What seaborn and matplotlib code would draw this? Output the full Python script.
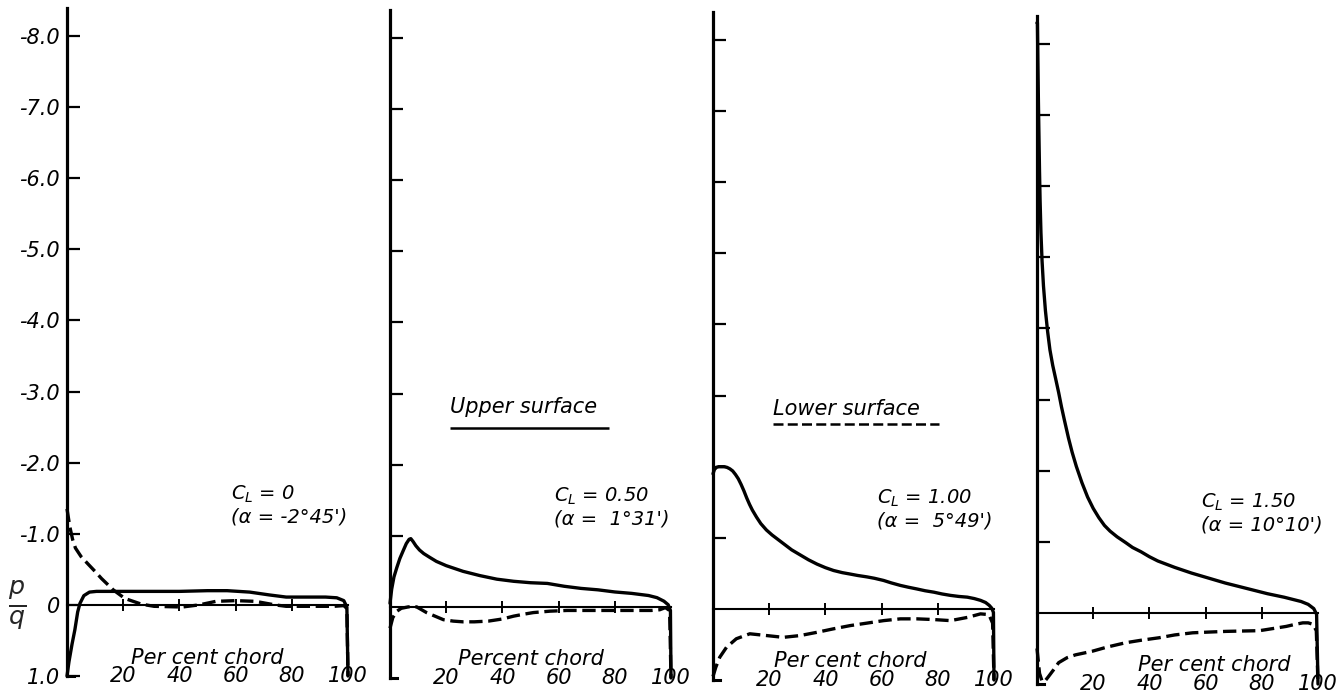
import pandas as pd
import matplotlib.pyplot as plt
import seaborn as sns

# pressure distributions
# x = per cent chord, y = p/q ; upper surface solid, lower surface dashed
cl0_upper_x = [0, 0.7, 1.8, 2.8, 3.8, 4.6, 6, 8, 10.5, 20, 30, 40, 50, 57, 65, 72, 78, 85, 92, 96, 98.5, 99.6, 100]
cl0_upper_y = [1.0, 0.8, 0.55, 0.35, 0.1, -0.02, -0.13, -0.18, -0.19, -0.19, -0.19, -0.19, -0.2, -0.2, -0.18, -0.14, -0.11, -0.11, -0.11, -0.1, -0.06, 0.03, 1.0]
cl0_lower_x = [0, 1, 2, 3, 5, 7.6, 10, 12.3, 16.5, 20.6, 26.5, 31, 41, 47, 53, 60, 67, 74, 78, 88, 95, 98.5, 99.6, 100]
cl0_lower_y = [-1.35, -1.1, -0.92, -0.8, -0.68, -0.57, -0.47, -0.37, -0.21, -0.09, -0.01, 0.02, 0.03, 0.0, -0.05, -0.06, -0.05, 0.0, 0.02, 0.02, 0.02, 0.01, 0.05, 1.0]

cl50_upper_x = [0, 0.6, 1.4, 2.4, 3.5, 4.8, 5.8, 6.8, 7.4, 8.2, 9.2, 10.5, 12, 14, 16.5, 20, 26, 32, 38, 44, 50, 56, 62, 68, 74, 80, 86, 92, 95, 97.5, 99, 99.8, 100]
cl50_upper_y = [-0.05, -0.25, -0.42, -0.55, -0.68, -0.8, -0.89, -0.95, -0.96, -0.92, -0.86, -0.8, -0.75, -0.7, -0.64, -0.58, -0.5, -0.44, -0.39, -0.36, -0.34, -0.33, -0.29, -0.26, -0.24, -0.21, -0.19, -0.16, -0.13, -0.08, -0.03, 0.05, 1.0]
cl50_lower_x = [0, 1.0, 2.5, 4, 6.5, 9.5, 13, 16, 19, 22.5, 26, 30, 35, 40, 44, 48, 51, 57, 63, 69, 75, 81, 87, 93, 96, 98, 99.5, 100]
cl50_lower_y = [0.3, 0.15, 0.06, 0.02, 0.0, 0.0, 0.08, 0.13, 0.18, 0.2, 0.21, 0.21, 0.2, 0.17, 0.13, 0.1, 0.08, 0.06, 0.05, 0.05, 0.05, 0.05, 0.05, 0.05, 0.04, 0.01, 0.05, 1.0]

cl100_upper_x = [0, 0.5, 1.2, 2, 3, 4, 5, 6, 7, 8, 9, 10, 11, 12, 13, 14, 15.5, 17, 19, 21, 23, 25, 28, 31, 34, 37, 40, 42.9, 46, 48.8, 51.5, 54.8, 57.5, 60.7, 63.5, 66.7, 69.5, 72.6, 75.5, 78.6, 81.5, 84.5, 87.5, 90.5, 93, 95.2, 97, 98.3, 99.2, 99.8, 100]
cl100_upper_y = [-1.9, -1.96, -1.99, -2.0, -2.0, -2.0, -1.99, -1.97, -1.94, -1.89, -1.83, -1.75, -1.66, -1.56, -1.47, -1.39, -1.29, -1.2, -1.11, -1.04, -0.98, -0.92, -0.83, -0.76, -0.69, -0.63, -0.58, -0.54, -0.51, -0.49, -0.47, -0.45, -0.43, -0.40, -0.365, -0.33, -0.305, -0.28, -0.255, -0.235, -0.21, -0.19, -0.175, -0.165, -0.145, -0.12, -0.09, -0.05, -0.01, 0.05, 1.0]
cl100_lower_x = [0, 1, 2.4, 4.8, 8.3, 13.1, 19.1, 25, 31, 36.9, 42.9, 48.8, 54.8, 60.7, 66.7, 72.6, 78.6, 84.5, 90.5, 95.2, 98.2, 99.5, 100]
cl100_lower_y = [0.95, 0.82, 0.68, 0.54, 0.42, 0.35, 0.375, 0.4, 0.375, 0.33, 0.28, 0.235, 0.2, 0.165, 0.14, 0.14, 0.15, 0.165, 0.12, 0.07, 0.08, 0.2, 1.0]

cl150_upper_x = [0, 0.15, 0.3, 0.5, 0.7, 0.9, 1.1, 1.4, 1.8, 2.3, 3.0, 3.8, 4.6, 5.6, 6.6, 7.7, 8.7, 9.7, 11.2, 12.5, 14, 16, 18, 20, 22, 24, 26, 28.5, 31.5, 34, 37, 40, 43, 46, 49, 52, 55, 58, 61, 64, 67, 70, 73, 76, 79, 82, 85, 88, 91, 94, 96.5, 98.5, 99.5, 100]
cl150_upper_y = [-8.3, -8.3, -7.8, -7.2, -6.7, -6.2, -5.8, -5.35, -4.95, -4.6, -4.25, -3.95, -3.7, -3.48, -3.3, -3.1, -2.9, -2.72, -2.46, -2.26, -2.06, -1.83, -1.63, -1.47, -1.34, -1.23, -1.15, -1.07, -0.99, -0.92, -0.86, -0.79, -0.73, -0.685, -0.64, -0.6, -0.56, -0.525, -0.49, -0.455, -0.42, -0.39, -0.36, -0.33, -0.3, -0.27, -0.245, -0.22, -0.19, -0.16, -0.12, -0.06, 0.02, 1.0]
cl150_lower_x = [0, 0.9, 1.8, 2.6, 4, 5.9, 7.7, 10.7, 13.7, 19.6, 25, 31.5, 37, 43.4, 49, 55.4, 61, 67.3, 73, 79.2, 84, 88.7, 92, 94.6, 96.5, 98.2, 99.4, 100]
cl150_lower_y = [0.5, 0.85, 0.96, 0.97, 0.9, 0.8, 0.7, 0.63, 0.59, 0.54, 0.48, 0.42, 0.385, 0.35, 0.31, 0.28, 0.27, 0.26, 0.255, 0.25, 0.22, 0.19, 0.16, 0.14, 0.14, 0.16, 0.25, 1.0]

lift_labels = ["0", "0.50", "1.00", "1.50"]
alpha_labels = ["-2°45'", " 1°31'", " 5°49'", "10°10'"]
chord_titles = ["Per cent chord", "Percent chord", "Per cent chord", "Per cent chord"]
y_ticks = [-8, -7, -6, -5, -4, -3, -2, -1, 0, 1]
y_ticklabels = ["-8.0", "-7.0", "-6.0", "-5.0", "-4.0", "-3.0", "-2.0", "-1.0", "0", "1.0"]
x_ticks = [20, 40, 60, 80, 100]


def surface_frame(ux, uy, lx, ly):
    up = pd.DataFrame({"chord": ux, "pq": uy, "surface": "upper"})
    lo = pd.DataFrame({"chord": lx, "pq": ly, "surface": "lower"})
    return pd.concat([up, lo], ignore_index=True)


panels = [
    surface_frame(cl0_upper_x, cl0_upper_y, cl0_lower_x, cl0_lower_y),
    surface_frame(cl50_upper_x, cl50_upper_y, cl50_lower_x, cl50_lower_y),
    surface_frame(cl100_upper_x, cl100_upper_y, cl100_lower_x, cl100_lower_y),
    surface_frame(cl150_upper_x, cl150_upper_y, cl150_lower_x, cl150_lower_y),
]

sns.set_theme(style="white")
plt.rcParams["font.family"] = ["DejaVu Sans"]
plt.rcParams["font.style"] = "italic"
plt.rcParams["mathtext.fontset"] = "dejavusans"

W, H = 1342, 696
fig = plt.figure(figsize=(W / 100, H / 100), dpi=100)

# panel placement in pixels (scan is slightly skewed, later panels sit lower)
lefts = [67, 390, 713, 1037]
drops = [0, 2, 4, 8]
chord_pos = [(50, 0.74), (50, 0.73), (49, 0.73), (63, 0.73)]
ink = "black"

for i, df in enumerate(panels):
    bottom_px = 676 + drops[i]
    ax = fig.add_axes([lefts[i] / W, (H - bottom_px) / H, 281 / W, 668.4 / H])
    ax.set_facecolor("none")

    sns.lineplot(data=df, x="chord", y="pq", hue="surface", style="surface",
                 palette={"upper": ink, "lower": ink},
                 dashes={"upper": "", "lower": (4, 1.7)},
                 estimator=None, sort=False, legend=False,
                 linewidth=2.4, clip_on=False, solid_joinstyle="round",
                 ax=ax)

    ax.set_xlim(0, 100)
    ax.set_ylim(1.0, -8.4)
    ax.set_xlabel("")
    ax.set_ylabel("")

    for s in ["top", "right"]:
        ax.spines[s].set_visible(False)
    ax.spines["left"].set_linewidth(2.3)
    ax.spines["left"].set_color(ink)
    # zero line carries the chord ticks
    ax.spines["bottom"].set_position(("data", 0))
    ax.spines["bottom"].set_bounds(0, 100)
    ax.spines["bottom"].set_linewidth(1.5)
    ax.spines["bottom"].set_color(ink)
    ax.set_xticks(x_ticks[:-1])
    ax.tick_params(axis="x", bottom=True, direction="inout", length=9,
                   width=1.4, color=ink, labelbottom=False)

    if i == 0:
        ax.set_yticks(y_ticks)
        ax.set_yticklabels(y_ticklabels)
        ax.set_ylabel(r"$\frac{p}{q}$", rotation=0, fontsize=26,
                      ha="center", va="center")
        ax.yaxis.set_label_coords((17 - 67) / 281, 1.0 / 9.4)
    else:
        ax.set_yticks(y_ticks[:-2])
        ax.set_yticklabels([])
    ax.tick_params(axis="y", left=True, direction="in", length=9, width=1.6,
                   color=ink, pad=5, labelsize=15, labelcolor=ink)

    # chord numbers sit at the foot of the panel, with a short stub at the nose
    sec = ax.secondary_xaxis("bottom")
    sec.set_xticks(x_ticks)
    sec.set_xticklabels([str(t) for t in x_ticks])
    sec.tick_params(bottom=True, length=0, pad=-7, labelsize=15, labelcolor=ink)
    sec.spines["bottom"].set_bounds(0, 2.6)
    sec.spines["bottom"].set_linewidth(2.2)
    sec.spines["bottom"].set_color(ink)

    cx, cy = chord_pos[i]
    ax.text(cx, cy, chord_titles[i], ha="center", va="center",
            fontsize=15, color=ink)

    ax.text(58.5, -1.56, r"$C_L$ = " + lift_labels[i], ha="left", va="center",
            fontsize=14, color=ink)
    ax.text(58.5, -1.23, "(α = " + alpha_labels[i] + ")", ha="left",
            va="center", fontsize=14, color=ink)

    if i == 1:
        ax.text(21.4, -2.81, "Upper surface", ha="left", va="center",
                fontsize=15, color=ink)
        ax.hlines(-2.51, 21.4, 78, color=ink, linewidth=1.8)
    if i == 2:
        ax.text(21.4, -2.81, "Lower surface", ha="left", va="center",
                fontsize=15, color=ink)
        ax.hlines(-2.6, 21.4, 80.4, color=ink, linewidth=1.8,
                  linestyles=(0, (4, 1.7)))

fig.savefig("out.png", dpi=100, facecolor="white")
